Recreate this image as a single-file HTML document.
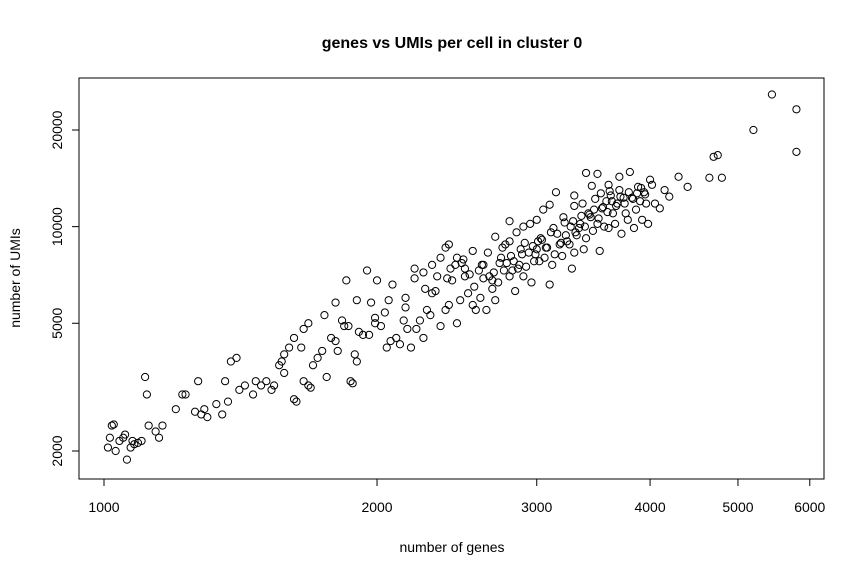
<!DOCTYPE html>
<html><head><meta charset="utf-8"><style>
body{margin:0;background:#fff;}
svg{display:block;font-family:"Liberation Sans",Arial,sans-serif;}
</style></head><body>
<svg id="chart" width="864" height="576" viewBox="0 0 864 576" xmlns="http://www.w3.org/2000/svg">
<rect width="864" height="576" fill="#fff"/>
<text x="452" y="48" text-anchor="middle" font-size="16" font-weight="bold">genes vs UMIs per cell in cluster 0</text>
<rect x="79" y="78" width="745" height="401" fill="none" stroke="#000" stroke-width="1"/>
<text x="452" y="552" text-anchor="middle" font-size="14">number of genes</text>
<text transform="translate(20,278) rotate(-90)" text-anchor="middle" font-size="14">number of UMIs</text>
<g id="axes"></g>
<g id="points"></g>
</svg>
<script>
const xTicks=[1000,2000,3000,4000,5000,6000];
const yTicks=[2000,5000,10000,20000];
const genes=[1010,1020,1025,1015,1030,1040,1050,1060,1070,1080,1090,1055,1075,1100,1110,1115,1120,1140,1150,1160,1200,1220,1230,1260,1270,1280,1290,1300,1330,1350,1360,1370,1380,1400,1410,1430,1460,1470,1490,1510,1530,1540,1560,1570,1580,1620,1630,1650,1660,1680,1690,1700,1720,1740,1760,1780,1800,1810,1830,1840,1860,1870,1880,1890,1900,1910,1930,1960,1970,1990,2000,2020,2040,2050,2070,2080,2100,2120,2140,2150,2160,2180,2200,2210,2230,2250,2270,2290,2300,2320,2350,2380,2400,2420,2450,2470,2500,2520,2550,2570,2590,2600,2620,2640,2660,2680,2700,2720,2730,2750,2780,2800,2820,2840,2860,2880,2900,2920,2940,2960,2980,3000,3020,3040,3060,3080,3100,3120,3140,3160,3180,3200,3220,3240,3260,3280,3300,3320,3340,3360,3380,3400,3420,3440,3460,3480,3500,3520,3540,3560,3580,3600,3620,3640,3660,3680,3700,3720,3740,3760,3780,3800,3820,3840,3860,3880,3900,3920,3940,3960,3980,4000,4020,4050,4100,4150,4200,4300,4400,4650,4700,4750,4800,5200,5450,5800,5800,2350,2380,2400,2450,2480,2500,2550,2300,2250,2200,1750,1800,1850,1900,1950,1680,1660,1620,1600,1580,2700,2800,2850,2900,2950,3000,3050,3100,3150,2800,3300,3400,3500,3600,3700,3300,3450,
2330,2410,2490,2530,2610,2650,2690,2740,2770,2810,2870,2910,2990,3030,3070,3110,3190,3230,3270,3310,3350,3390,3430,3470,3510,3550,3590,3630,3670,3710,3750,3790,3830,3870,3910,3950,2560,2620,2680,2760,2830,2890,2970,3010,3130,3210,3290,3370,3530,3610,2150,2260,2390,2440,1990,2060];
const umis=[2050,2400,2420,2200,2000,2150,2200,1880,2050,2100,2120,2250,2150,2150,3400,3000,2400,2300,2200,2400,2700,3000,3000,2650,3300,2600,2700,2550,2800,2600,3300,2850,3800,3900,3100,3200,3000,3300,3200,3300,3100,3200,3700,3800,3500,2900,2850,4200,3300,3200,3150,3700,3900,4100,3400,4500,4400,4100,5100,4900,4900,3300,3250,4000,3800,4700,4600,4600,5800,5000,6800,4900,5400,4200,4400,6600,4500,4300,5100,6000,4800,4200,7400,4800,5100,4500,5500,5300,6200,6300,4900,5500,5700,6800,5000,5900,7000,6200,5700,5500,7300,6000,7600,5500,7000,6800,5900,6700,7700,8600,7700,7000,7300,6300,7400,8500,7000,7500,8300,6700,7800,8500,7800,9100,8000,8600,6600,7600,8200,9500,8800,8100,10300,9000,8800,7400,8300,9400,9900,10800,8500,9200,11000,10700,9700,12200,10200,8400,11400,10000,12000,9900,12500,11000,10200,11800,13000,9500,12300,11000,10500,14800,12300,9900,11300,13300,12000,10500,12800,11800,10200,14000,13500,11800,11400,13000,12400,14300,13300,14200,16500,16700,14200,20000,25800,23200,17100,8000,8600,8800,8000,7700,7400,8400,7600,7200,6900,5300,5800,6800,5900,7300,5000,4800,4500,4200,4000,9300,9000,9600,10000,10200,10500,11300,11700,12800,10400,12500,14700,14600,13500,14300,11600,13400,
7000,7400,7900,7100,7600,8300,7200,8000,8800,8100,7600,8900,8200,9200,8600,9600,8900,9400,10000,9600,10200,10000,10900,11300,10600,11500,11100,12000,11600,12400,11800,12800,12200,12700,13200,12600,6500,6900,6400,7300,7800,8200,8700,9000,9900,10700,10400,11800,12700,12900,5600,6400,6900,7600,5200,5900];
const NS="http://www.w3.org/2000/svg";
const xS=v=>104+907*Math.log10(v/1000);
const yS=v=>451-321*Math.log10(v/2000);
const axes=document.getElementById('axes');
function mk(tag,attrs,parent){const e=document.createElementNS(NS,tag);for(const k in attrs)e.setAttribute(k,attrs[k]);parent.appendChild(e);return e;}
const xl=mk('line',{x1:xS(xTicks[0]),x2:xS(xTicks[xTicks.length-1]),y1:479,y2:479,stroke:'#000'},axes);


xTicks.forEach(t=>{
  const l=mk('line',{x1:xS(t),x2:xS(t),y1:479,y2:486,stroke:'#000'},axes);
  
  
  const tx=mk('text',{x:xS(t),y:512,'text-anchor':'middle','font-size':14},axes);
  tx.textContent=t;
  
  
});
const yl=mk('line',{x1:79,x2:79,y1:yS(yTicks[0]),y2:yS(yTicks[yTicks.length-1]),stroke:'#000'},axes);


yTicks.forEach(t=>{
  const l=mk('line',{x1:72,x2:79,y1:yS(t),y2:yS(t),stroke:'#000'},axes);
  
  
  const tx=mk('text',{transform:`translate(62,${yS(t)}) rotate(-90)`,'text-anchor':'middle','font-size':14},axes);
  tx.textContent=t;
  
  
});
const pts=document.getElementById('points');
genes.forEach((g,i)=>{
  const c=mk('circle',{cx:xS(g),cy:yS(umis[i]),r:3.6,fill:'none',stroke:'#000','stroke-width':1},pts);
  
  
});
</script>
</body></html>
